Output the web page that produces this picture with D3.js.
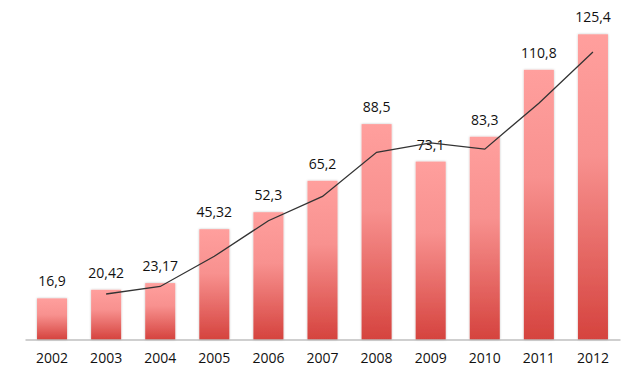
<!DOCTYPE html>
<html><head><meta charset="utf-8">
<script src="https://cdn.jsdelivr.net/npm/d3@7"></script>
<style>
html,body{margin:0;padding:0;background:#fff;}
svg{display:block;}
text{font-family:"Open Sans",Lato,sans-serif;fill:#111;}
</style></head>
<body>
<svg id="chart" width="640" height="388"></svg>
<script>
const years = ["2002","2003","2004","2005","2006","2007","2008","2009","2010","2011","2012"];
const values = [16.9, 20.42, 23.17, 45.32, 52.3, 65.2, 88.5, 73.1, 83.3, 110.8, 125.4];
const labels = ["16,9","20,42","23,17","45,32","52,3","65,2","88,5","73,1","83,3","110,8","125,4"];
// trend line (2-period moving average)
const trend = [null, 18.7, 21.8, 34.2, 48.8, 58.8, 76.9, 80.8, 78.2, 97.1, 118.1];

const svg = d3.select("#chart");
const x = d3.scaleBand().domain(years).range([25, 620]).paddingInner(0.445).paddingOuter(0.2225);
const y = d3.scaleLinear().domain([0, 125.4]).range([339.5, 34.3]);

const defs = svg.append("defs");
const g = defs.append("linearGradient").attr("id","barGrad").attr("x1",0).attr("y1",0).attr("x2",0).attr("y2",1);
g.append("stop").attr("offset","0").attr("stop-color","#ff9f9d");
g.append("stop").attr("offset","0.4").attr("stop-color","#f8918f");
g.append("stop").attr("offset","1").attr("stop-color","#d5433e");
const f = defs.append("filter").attr("id","shadow").attr("x","-30%").attr("y","-10%").attr("width","160%").attr("height","120%");
f.append("feDropShadow").attr("dx",0).attr("dy",0).attr("stdDeviation",1.2).attr("flood-color","#000").attr("flood-opacity",0.25);

svg.append("g").selectAll("rect").data(years).join("rect")
  .attr("x", d => x(d))
  .attr("y", (d,i) => y(values[i]))
  .attr("width", x.bandwidth())
  .attr("height", (d,i) => y(0) - y(values[i]))
  .attr("fill", "url(#barGrad)")
  .attr("filter", "url(#shadow)");

// axis
const axis = d3.axisBottom(x).tickSize(0).tickPadding(14);
const ax = svg.append("g").attr("transform", `translate(0,${y(0)})`).call(axis);
ax.select(".domain").attr("stroke","#a0a0a0").attr("stroke-width",1.2);
ax.selectAll("text").attr("font-size", 14).attr("font-family", "'Open Sans',Lato,sans-serif").attr("fill","#111");

// value labels
svg.append("g").selectAll("text").data(years).join("text")
  .attr("x", d => x(d) + x.bandwidth()/2)
  .attr("y", (d,i) => y(values[i]) - 12)
  .attr("text-anchor","middle")
  .attr("font-size", 14)
  .text((d,i) => labels[i]);

// trend line
const line = d3.line()
  .defined(d => d.v != null)
  .x(d => x(d.k) + x.bandwidth()/2)
  .y(d => y(d.v));
svg.append("path")
  .datum(years.map((k,i) => ({k, v: trend[i]})))
  .attr("d", line)
  .attr("fill","none")
  .attr("stroke","#333")
  .attr("stroke-width",1.3);
</script>
</body></html>
